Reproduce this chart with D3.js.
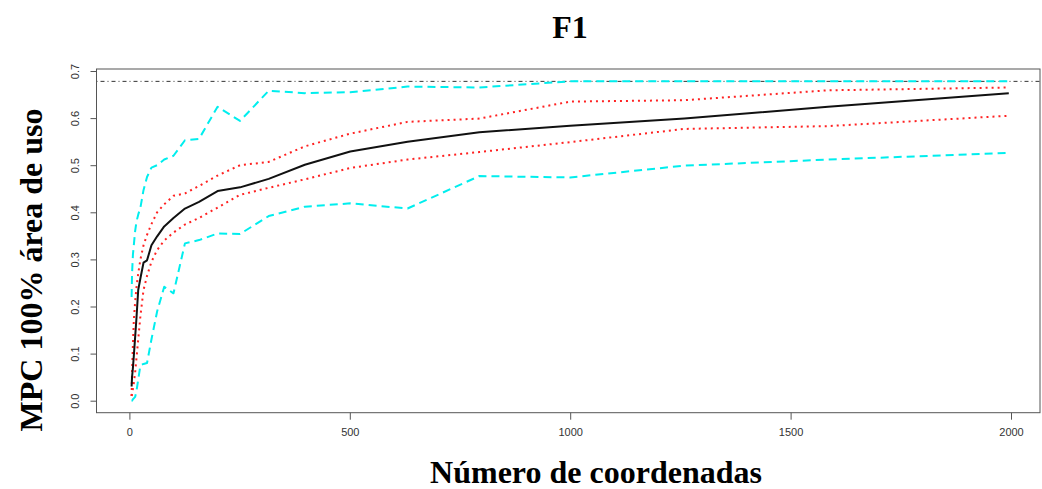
<!DOCTYPE html>
<html>
<head>
<meta charset="utf-8">
<script src="https://cdn.jsdelivr.net/npm/d3@7/dist/d3.min.js"></script>
<style>
  html, body { margin: 0; padding: 0; background: #fff; }
  svg { display: block; }
</style>
</head>
<body>
<svg id="chart" width="1042" height="489"></svg>
<script>
// ---- data ----
const xCoords   = [5, 6, 8, 10, 13, 16, 20, 25, 32, 40, 50, 63, 79, 100, 126, 158, 200, 251, 316, 398, 501, 631, 794, 1000, 1259, 1585, 1995];
const meanVals  = [0.03, 0.05, 0.07, 0.095, 0.135, 0.175, 0.235, 0.26, 0.293, 0.298, 0.33, 0.349, 0.37, 0.388, 0.408, 0.422, 0.445, 0.453, 0.471, 0.501, 0.529, 0.550, 0.570, 0.584, 0.599, 0.624, 0.653];
const redUpper  = [0.01, 0.06, 0.12, 0.17, 0.21, 0.24, 0.27, 0.30, 0.33, 0.352, 0.375, 0.40, 0.417, 0.435, 0.44, 0.456, 0.478, 0.50, 0.507, 0.54, 0.567, 0.592, 0.599, 0.635, 0.638, 0.659, 0.665];
const redLower  = [0.01, 0.015, 0.025, 0.037, 0.06, 0.09, 0.13, 0.18, 0.235, 0.265, 0.295, 0.32, 0.34, 0.357, 0.374, 0.388, 0.41, 0.437, 0.452, 0.47, 0.494, 0.512, 0.528, 0.549, 0.577, 0.583, 0.605];
const cyanUpper = [0.22, 0.27, 0.31, 0.33, 0.36, 0.38, 0.395, 0.41, 0.447, 0.475, 0.495, 0.50, 0.512, 0.52, 0.553, 0.556, 0.624, 0.594, 0.658, 0.653, 0.655, 0.667, 0.665, 0.678, 0.678, 0.678, 0.678];
const cyanLower = [0, 0, 0.003, 0.005, 0.008, 0.02, 0.045, 0.075, 0.078, 0.08, 0.13, 0.19, 0.242, 0.228, 0.334, 0.341, 0.355, 0.354, 0.392, 0.412, 0.419, 0.408, 0.477, 0.474, 0.499, 0.512, 0.526];
const refLevel  = 0.678;
const xTicks    = [0, 500, 1000, 1500, 2000];
const yTicks    = [0.0, 0.1, 0.2, 0.3, 0.4, 0.5, 0.6, 0.7];
const titleText = "F1";
const xLabel    = "Número de coordenadas";
const yLabel    = "MPC 100% área de uso";

// ---- layout ----
const svg = d3.select("#chart");
const box = { left: 96.5, right: 1040, top: 69, bottom: 412.7 };
const x = d3.scaleLinear().domain([0, 2000]).range([129.4, 1011]);
const y = d3.scaleLinear().domain([0, 0.7]).range([400.7, 71]);

// reference horizontal line
svg.append("line")
  .attr("x1", box.left).attr("x2", box.right)
  .attr("y1", y(refLevel)).attr("y2", y(refLevel))
  .attr("stroke", "#333").attr("stroke-width", 1)
  .attr("stroke-dasharray", "1,3,4,3");

const line = d3.line().x(d => x(d[0])).y(d => y(d[1]));
const series = [
  { vals: cyanUpper, color: "#00EEEE", width: 2, dash: "8,5" },
  { vals: cyanLower, color: "#00EEEE", width: 2, dash: "8,5" },
  { vals: redUpper,  color: "#FF2222", width: 2, dash: "2,4" },
  { vals: redLower,  color: "#FF2222", width: 2, dash: "2,4" },
  { vals: meanVals,  color: "#111111", width: 2, dash: null }
];
series.forEach(s => {
  svg.append("path")
    .datum(xCoords.map((xv, i) => [xv, s.vals[i]]))
    .attr("d", line)
    .attr("fill", "none")
    .attr("stroke", s.color)
    .attr("stroke-width", s.width)
    .attr("stroke-dasharray", s.dash)
    .attr("stroke-linejoin", "round");
});

// box
svg.append("rect")
  .attr("x", box.left).attr("y", box.top)
  .attr("width", box.right - box.left).attr("height", box.bottom - box.top)
  .attr("fill", "none").attr("stroke", "#555").attr("stroke-width", 1);

// x axis
const gx = svg.append("g").attr("transform", `translate(0,${box.bottom})`)
  .call(d3.axisBottom(x).tickValues(xTicks).tickSize(7).tickPadding(9).tickFormat(d3.format("d")));
gx.select(".domain").remove();
gx.selectAll("line").attr("stroke", "#555");
gx.selectAll("text").attr("font-family", "Liberation Sans, Arial, sans-serif").attr("font-size", 11).attr("fill", "#333");

// y axis
const gy = svg.append("g").attr("transform", `translate(${box.left},0)`)
  .call(d3.axisLeft(y).tickValues(yTicks).tickSize(6).tickFormat(d3.format(".1f")));
gy.select(".domain").remove();
gy.selectAll("line").attr("stroke", "#555");
gy.selectAll("text")
  .attr("font-family", "Liberation Sans, Arial, sans-serif").attr("font-size", 11).attr("fill", "#333")
  .attr("x", null).attr("dy", null)
  .attr("text-anchor", "middle")
  .attr("transform", "translate(-18,0) rotate(-90)");

// title and axis labels
svg.append("text")
  .attr("x", 570).attr("y", 38)
  .attr("text-anchor", "middle")
  .attr("font-family", "Liberation Serif, Times New Roman, serif")
  .attr("font-weight", "bold").attr("font-size", 32)
  .text(titleText);

svg.append("text")
  .attr("x", 596).attr("y", 483)
  .attr("text-anchor", "middle")
  .attr("font-family", "Liberation Serif, Times New Roman, serif")
  .attr("font-weight", "bold").attr("font-size", 32)
  .text(xLabel);

svg.append("text")
  .attr("transform", "translate(42,270) rotate(-90)")
  .attr("text-anchor", "middle")
  .attr("font-family", "Liberation Serif, Times New Roman, serif")
  .attr("font-weight", "bold").attr("font-size", 32)
  .text(yLabel);
</script>
</body>
</html>
